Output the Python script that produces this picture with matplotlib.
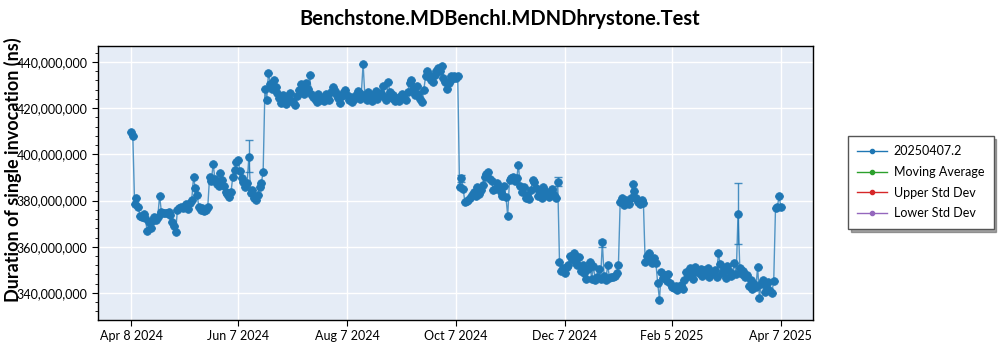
import numpy as np
import pandas as pd
import matplotlib
matplotlib.use("Agg")
import matplotlib.pyplot as plt
from matplotlib.ticker import FuncFormatter, AutoMinorLocator

plt.rcParams["font.family"] = ["Lato", "DejaVu Sans"]

# ----------------------------------------------------------------------
# DATA: one run per day, duration in millions of ns
# ----------------------------------------------------------------------
START_DATE = "2024-04-08"
run_label = "20250407.2"

duration_ms = [
    409.6, 408.1, 378.4, 381.0, 377.3, 373.4, 372.9, 374.1, 372.6, 366.8,
    370.5, 368.2, 371.0, 372.8, 371.4, 373.0, 382.1, 375.2, 374.4, 374.8,
    374.6, 374.9, 373.7, 370.9, 369.0, 366.4, 376.1, 376.8, 377.2, 376.9,
    377.6, 378.3, 376.5, 379.1, 380.2, 390.1, 385.5, 382.4, 377.3, 376.0,
    376.8, 375.3, 375.9, 377.4, 390.3, 388.6, 395.8, 389.4, 387.3, 386.1,
    392.0, 388.7, 386.4, 383.9, 382.8, 381.4, 383.7, 390.2, 393.2, 396.7,
    397.6, 392.6, 389.8, 388.2, 386.0, 387.4, 398.9, 383.3, 384.6, 381.0,
    380.3, 382.6, 385.9, 387.6, 392.4, 428.2, 423.7, 435.4, 430.6, 428.4,
    432.1, 429.3, 426.5, 424.2, 422.0, 425.7, 423.4, 421.6, 424.9, 426.4,
    423.1, 422.5, 421.5, 425.2, 427.8, 430.6, 428.9, 426.1, 431.0, 428.2,
    434.4, 426.3, 425.0, 424.1, 422.8, 425.9, 423.6, 424.3, 422.9, 426.0,
    425.1, 423.4, 427.0, 429.0, 427.6, 426.1, 424.4, 422.0, 425.3, 426.7,
    428.0, 425.5, 423.7, 424.6, 422.5, 423.9, 425.7, 427.2, 424.1, 426.3,
    439.1, 425.0, 423.4, 426.8, 424.6, 423.1, 425.8, 427.5, 424.0, 425.2,
    426.4, 429.6, 424.8, 423.3, 431.3, 426.9, 424.2, 425.6, 423.0, 424.5,
    422.9, 425.3, 426.0, 424.4, 423.6, 427.1, 430.8, 432.1, 428.4, 425.6,
    429.5, 426.3, 424.0, 422.7, 427.9, 433.8, 436.1, 434.5, 432.0, 431.4,
    434.2, 435.9, 437.4, 436.0, 438.3, 433.1, 431.5, 428.2, 430.7, 433.8,
    432.6, 434.0, 433.2, 433.7, 385.8, 389.6, 385.2, 379.4, 379.8, 380.3,
    381.0, 382.4, 383.5, 381.8, 385.9, 383.0, 384.7, 386.8, 390.1, 391.6,
    392.5, 389.4, 388.3, 384.6, 384.9, 387.6, 385.2, 383.5, 382.1, 386.3,
    381.6, 373.3, 389.0, 389.8, 390.2, 388.5, 389.6, 395.4, 386.1, 383.9,
    385.8, 381.0, 382.4, 380.5, 384.4, 389.0, 388.1, 385.3, 382.0, 383.6,
    381.2, 386.0, 384.3, 382.6, 381.5, 383.8, 385.0, 382.2, 381.1, 388.2,
    353.6, 349.5, 350.7, 348.6, 351.2, 352.0, 355.8, 354.6, 357.3, 353.0,
    351.9, 355.6, 349.3, 352.3, 348.6, 346.2, 350.4, 353.6, 346.0, 351.6,
    345.8, 347.1, 350.2, 346.0, 361.9, 347.2, 345.8, 352.3, 346.3, 346.8,
    347.1, 347.5, 348.6, 351.9, 379.3, 381.2, 378.0, 380.1, 379.5, 378.3,
    381.0, 387.2, 384.3, 381.3, 379.2, 378.3, 380.4, 379.1, 353.3, 355.8,
    357.5, 354.0, 353.1, 355.0, 352.9, 344.3, 337.0, 349.2, 346.5, 347.8,
    345.2, 348.4, 344.3, 342.7, 342.1, 343.0, 341.5, 342.4, 343.3, 341.8,
    345.8, 349.1, 347.3, 350.6, 348.0, 346.2, 351.2, 349.4, 348.8, 350.5,
    347.4, 349.9, 348.2, 350.7, 347.1, 349.2, 348.5, 350.0, 346.9, 357.2,
    352.5, 348.8, 350.2, 346.6, 351.6, 349.7, 347.4, 348.3, 352.8, 348.0,
    374.2, 351.0, 348.4, 349.7, 346.9, 347.8, 343.2, 345.7, 341.6, 344.0,
    342.5, 351.3, 337.8, 343.9, 345.4, 340.6, 342.1, 344.8, 341.0, 340.2,
    345.3, 376.8, 377.0, 382.0, 377.3,
]

# runs with a noticeable spread (day index, lower / upper error in millions)
err_days = [66, 185, 239, 264, 340]
err_low = [6.4, 1.5, 1.7, 1.9, 13.2]
err_high = [7.1, 1.5, 2.1, 1.0, 13.4]

tick_dates = ["2024-04-08", "2024-06-07", "2024-08-07", "2024-10-07",
              "2024-12-07", "2025-02-05", "2025-04-07"]
tick_labels = ["Apr 8 2024", "Jun 7 2024", "Aug 7 2024", "Oct 7 2024",
               "Dec 7 2024", "Feb 5 2025", "Apr 7 2025"]

BLUE = "#1f77b4"
BG = "#e5ecf6"


def build_series():
    dates = pd.date_range(START_DATE, periods=len(duration_ms), freq="D")
    values = np.array(duration_ms) * 1e6
    lo = np.zeros(len(values))
    hi = np.zeros(len(values))
    for d, l, h in zip(err_days, err_low, err_high):
        lo[d] = l * 1e6
        hi[d] = h * 1e6
    return dates, values, lo, hi


def main():
    dates, values, lo, hi = build_series()

    fig = plt.figure(figsize=(10, 3.5), dpi=100)
    ax = fig.add_axes([0.098, 0.0857, 0.715, 0.783])
    ax.set_facecolor(BG)

    # connecting line + points
    ax.plot(dates, values, color=BLUE, lw=1.0, alpha=0.75, zorder=2)
    ax.errorbar(dates, values, yerr=[lo, hi], fmt="none", ecolor=BLUE,
                elinewidth=1.0, capsize=3, alpha=0.8, zorder=3)
    ax.plot(dates, values, "o", color=BLUE, ms=5.5, mec=BLUE, mew=0.6,
            zorder=4)

    # legend entries
    ax.plot([], [], "-o", color=BLUE, ms=3, lw=1, label=run_label)
    ax.plot([], [], "-o", color="#2ca02c", ms=3, lw=1, label="Moving Average")
    ax.plot([], [], "-o", color="#d62728", ms=3, lw=1, label="Upper Std Dev")
    ax.plot([], [], "-o", color="#9467bd", ms=3, lw=1, label="Lower Std Dev")

    ax.set_ylim(328.3e6, 446.9e6)
    ax.set_xlim(pd.Timestamp("2024-03-20 12:00"), pd.Timestamp("2025-04-25"))

    ax.set_xticks([pd.Timestamp(t) for t in tick_dates])
    ax.set_xticklabels(tick_labels)
    ax.set_yticks(np.arange(340e6, 441e6, 20e6))
    ax.yaxis.set_major_formatter(FuncFormatter(lambda v, p: f"{v:,.0f}"))
    ax.yaxis.set_minor_locator(AutoMinorLocator(5))

    ax.tick_params(axis="both", which="major", labelsize=9, length=4,
                   direction="out", color="black")
    ax.tick_params(axis="y", which="minor", length=2, color="black")
    ax.grid(True, which="major", color="white", lw=1.0)
    ax.set_axisbelow(True)
    for s in ax.spines.values():
        s.set_color("black")
        s.set_linewidth(1.0)

    fig.text(0.013, 0.514, "Duration of single invocation (ns)",
             rotation=90, ha="center", va="center",
             fontsize=13, fontweight="bold")
    fig.suptitle("Benchstone.MDBenchI.MDNDhrystone.Test", x=0.5, y=0.975,
                 fontsize=14.5, fontweight="bold")

    leg = fig.legend(loc="upper left", bbox_to_anchor=(0.848, 0.612),
                     fontsize=9, frameon=True, fancybox=False, shadow=True,
                     borderpad=0.75, labelspacing=0.7, handlelength=2.4,
                     handletextpad=0.5, borderaxespad=0)
    leg.get_frame().set_edgecolor("#555555")
    leg.get_frame().set_linewidth(1.0)

    fig.savefig("out.png", dpi=100)
    plt.close(fig)


if __name__ == "__main__":
    main()
